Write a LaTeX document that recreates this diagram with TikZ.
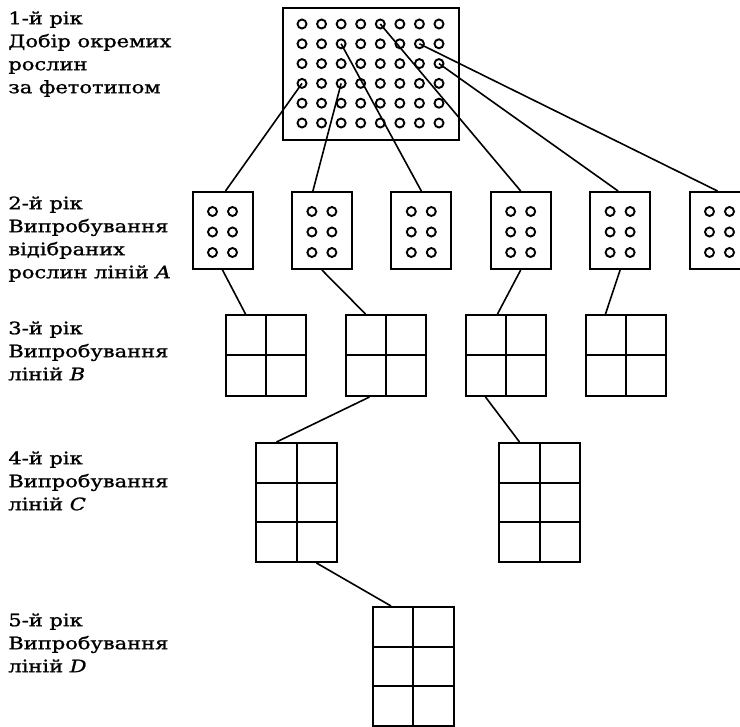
\documentclass[tikz,border=0pt]{standalone}
\usepackage{fontspec}
\setmainfont{DejaVu Serif}[FakeStretch=1.22, FakeBold=1.2]
\usetikzlibrary{positioning, calc}

\begin{document}
\begin{tikzpicture}[
			x=0.5pt, y=-0.5pt,
			node distance=18.7pt,
			label/.style={
				anchor=north west,
				align=left,
				inner sep=0pt,
				font=\fontsize{8.6}{11.5}\selectfont
			},
			box/.style={draw, line width=1pt, inner sep=0pt},
			ring/.style={draw, line width=0.95pt, fill=white},
			link/.style={line width=0.8pt},
			dotbox/.style={
				box,
				minimum width=30pt,
				minimum height=38.5pt,
				path picture={
					\foreach \dx in {-5,5}
						\foreach \dy in {9.5,-0.75,-11}
							\draw[ring] ($(path picture bounding box.center)+(\dx pt,\dy pt)$) circle[radius=2.25pt];
				}
			},
			gridfour/.style={
				box,
				minimum width=40pt,
				minimum height=40.5pt,
				path picture={
					\draw[line width=1pt] (path picture bounding box.north) -- (path picture bounding box.south)
						(path picture bounding box.west) -- (path picture bounding box.east);
				}
			},
			gridsix/.style={
				box,
				minimum width=40.5pt,
				minimum height=59.5pt,
				path picture={
					\draw[line width=1pt] (path picture bounding box.north) -- (path picture bounding box.south);
					\foreach \k in {1,2}
						\draw[line width=1pt]
							($(path picture bounding box.north west)!\k/3!(path picture bounding box.south west)$) --
							($(path picture bounding box.north east)!\k/3!(path picture bounding box.south east)$);
				}
			}
			]
			
			\useasboundingbox (0,0) rectangle (740,727);
			
			\node[label] (yr1) at (8,11) {1-й рік\\Добір окремих\\рослин\\за фетотипом};
			\node[label] (yr2) at (8,196) {2-й рік\\Випробування\\відібраних\\рослин ліній \textit{A}};
			\node[label] (yr3) at (8,321) {3-й рік\\Випробування\\ліній \textit{B}};
			\node[label] (yr4) at (8,451) {4-й рік\\Випробування\\ліній \textit{C}};
			\node[label] (yr5) at (8,613) {5-й рік\\Випробування\\ліній \textit{D}};
			
			\node[box, minimum width=88pt, minimum height=66pt] (field) at (371,74) {};
			\foreach \i in {1,...,8}
				\foreach \j in {1,...,6} {
					\coordinate (f\i\j) at ({302+19.57*(\i-1)},{24+19.8*(\j-1)});
					\draw[ring] (f\i\j) circle[radius=2.25pt];
				}
			
			\node[dotbox] (a1) at (222.5,230.5) {};
			\node[dotbox, right=of a1] (a2) {};
			\node[dotbox, right=of a2] (a3) {};
			\node[dotbox, right=of a3] (a4) {};
			\node[dotbox, right=of a4] (a5) {};
			\node[dotbox, right=of a5] (a6) {};
			
			\node[gridfour] (b1) at (265.5,355.5) {};
			\node[gridfour, right=19pt of b1] (b2) {};
			\node[gridfour, right=19pt of b2] (b3) {};
			\node[gridfour, right=19pt of b3] (b4) {};
			
			\node[gridsix] (c1) at (296.5,502.5) {};
			\node[gridsix, right=80pt of c1] (c2) {};
			
			\node[gridsix] (d1) at (413,666.5) {};
			
			\draw[link] (f14) -- ([xshift=1.5pt]a1.north);
			\draw[link] (f34) -- ([xshift=-4.5pt]a2.north);
			\draw[link] (f32) -- (a3.north);
			\draw[link] (f51) -- (a4.north);
			\draw[link] (f83) -- ([xshift=-1pt]a5.north);
			\draw[link] (f72) -- ([xshift=-1pt]a6.north);
			
			\draw[link] (a1.south) -- ([xshift=-10pt]b1.north);
			\draw[link] (a2.south) -- ([xshift=-10pt]b2.north);
			\draw[link] (a4.south) -- ([xshift=-4pt]b3.north);
			\draw[link] (a5.south) -- ([xshift=-10pt]b4.north);
			
			\draw[link] ([xshift=-8pt]b2.south) -- ([xshift=-10pt]c1.north);
			\draw[link] ([xshift=-10pt]b3.south) -- ([xshift=-10pt]c2.north);
			
			\draw[link] ([xshift=10pt]c1.south) -- ([xshift=-11pt]d1.north);
			
		\end{tikzpicture}
\end{document}
